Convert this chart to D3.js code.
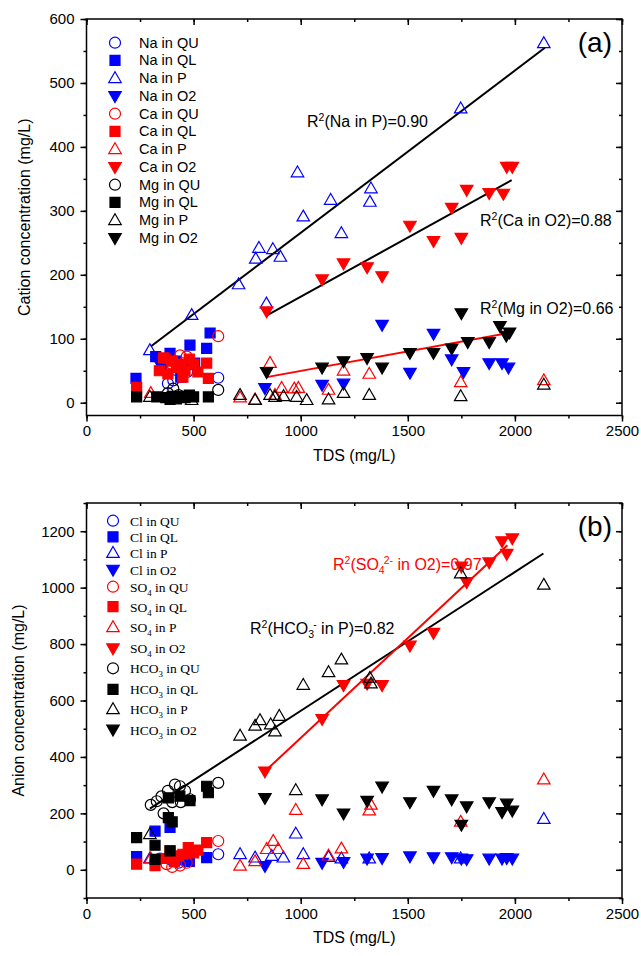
<!DOCTYPE html>
<html><head><meta charset="utf-8">
<script src="https://cdn.jsdelivr.net/npm/d3@7"></script>
<style>body{margin:0;background:#fff}svg{display:block}</style>
</head><body>
<script>
// ---------------- DATA ----------------
const xTicks = [0, 500, 1000, 1500, 2000, 2500];
const yTicksA = [0, 100, 200, 300, 400, 500, 600];
const yTicksB = [0, 200, 400, 600, 800, 1000, 1200];

// Panel (a) cations: [TDS, concentration]
const naQU = [[343,67],[405,35],[430,55],[470,48],[615,39],[380,30]];
const naQL = [[231,38],[323,72],[390,77],[483,90],[561,85],[577,109],[420,65],[455,58],[350,58],[505,62],[440,40]];
const naP  = [[296,82],[491,137],[710,185],[790,225],[805,242],[840,155],[870,240],[905,228],[985,360],[1012,291],[1140,317],[1190,265],[1323,314],[1328,335],[1747,460],[2135,562]];
const naO2 = [[833,23],[1100,28],[1200,30],[1380,122],[1510,47],[1620,108],[1705,68],[1760,48],[1880,62],[1940,62],[1970,55]];
const caQU = [[374,69],[437,74],[468,72],[615,104],[400,60],[455,62]];
const caQL = [[234,24],[340,50],[380,45],[400,65],[420,55],[440,60],[460,50],[480,68],[500,60],[520,48],[561,62],[569,38],[360,70],[450,40]];
const caP  = [[300,15],[717,8],[787,5],[857,62],[880,12],[911,23],[970,22],[989,23],[1130,20],[1200,50],[1320,45],[1747,32],[2135,35]];
const caO2 = [[841,143],[1100,193],[1200,218],[1310,212],[1380,198],[1510,277],[1620,253],[1705,305],[1750,258],[1775,333],[1880,328],[1946,327],[1962,369],[1988,369]];
const mgQU = [[405,22],[615,20],[430,12],[380,15]];
const mgQL = [[234,9],[328,9],[370,8],[400,10],[420,6],[440,10],[460,8],[480,12],[500,9],[569,9],[390,5]];
const mgP  = [[296,9],[491,4],[717,12],[787,4],[857,12],[880,9],[920,10],[981,9],[1028,4],[1130,5],[1200,15],[1320,12],[1747,10],[2135,28]];
const mgO2 = [[841,48],[1100,55],[1200,65],[1310,70],[1380,55],[1510,78],[1620,78],[1705,85],[1750,140],[1780,95],[1880,95],[1930,120],[1960,105],[1975,110]];

// Panel (b) anions
const clQU = [[343,40],[405,30],[430,25],[615,55],[470,35]];
const clQL = [[234,47],[320,137],[390,150],[430,35],[561,43],[480,30]];
const clP  = [[296,40],[717,55],[787,43],[865,49],[919,43],[977,128],[1012,55],[1130,45],[1190,40],[1320,40],[1747,40],[2135,180]];
const clO2 = [[833,14],[1100,25],[1200,28],[1310,40],[1380,42],[1510,48],[1620,45],[1705,45],[1750,40],[1775,38],[1880,40],[1940,40],[1962,42],[1988,40]];
const so4QU = [[374,20],[437,15],[468,25],[615,102],[400,10]];
const so4QL = [[234,20],[320,15],[390,67],[429,49],[475,79],[561,96],[360,40],[410,30],[450,55],[500,60],[520,70]];
const so4P  = [[300,40],[717,14],[787,30],[841,73],[872,102],[895,73],[977,212],[1012,20],[1130,50],[1190,75],[1320,210],[1328,230],[1747,170],[2135,320]];
const so4O2 = [[833,349],[1100,535],[1200,655],[1310,660],[1380,655],[1510,795],[1620,840],[1750,1075],[1775,1020],[1880,1090],[1940,1165],[1962,1120],[1988,1175]];
const hco3QU = [[328,243],[413,302],[436,296],[483,250],[615,308],[300,230],[350,260],[380,280],[400,240],[460,280],[440,240],[360,200]];
const hco3QL = [[234,114],[320,87],[390,67],[320,37],[382,185],[382,255],[436,261],[483,245],[561,296],[569,273],[400,170]];
const hco3P  = [[296,126],[717,475],[787,510],[810,530],[860,515],[880,490],[900,545],[977,282],[1012,655],[1130,700],[1190,745],[1323,680],[1328,660],[1747,1050],[2135,1010]];
const hco3O2 = [[833,255],[1100,250],[1200,200],[1310,245],[1380,295],[1510,240],[1620,280],[1705,250],[1750,160],[1775,225],[1880,240],[1940,205],[1962,235],[1988,210]];

// Regression lines (endpoints)
const naLine = [[300,88],[2140,555]];
const caLine = [[840,136],[1985,348]];
const mgLine = [[841,40],[1985,110]];
const hco3Line = [[296,217],[2133,1121]];
const so4Line  = [[833,349],[1965,1150]];

// ---------------- DRAW ----------------
const W = 641, H = 956;
const svg = d3.select("body").append("svg").attr("width", W).attr("height", H);
const SANS = "Arial, 'Liberation Sans', Helvetica, sans-serif";
const SERIF = "'Times New Roman', 'Liberation Serif', serif";

const BLUE = "#0000ff", RED = "#ff0000", BLACK = "#000000";

function markerPath(type) {
  if (type === "circle") return d3.symbol(d3.symbolCircle, 95)();
  if (type === "square") return d3.symbol(d3.symbolSquare, 100)();
  const s = 12.5, h = s * Math.sqrt(3) / 2;
  if (type === "up") return `M0,${-h*0.6}L${s/2},${h*0.4}L${-s/2},${h*0.4}Z`;
  return `M0,${h*0.6}L${s/2},${-h*0.4}L${-s/2},${-h*0.4}Z`;
}
const FILLED = {circle:false, square:true, up:false, down:true};

function drawPanel(cfg) {
  const x = d3.scaleLinear().domain([0, 2500]).range([86.5, 622]);
  const y = d3.scaleLinear().domain(cfg.yDomain).range(cfg.yRange);
  const g = svg.append("g");
  const x0 = x.range()[0], x1 = x.range()[1], yb = y.range()[0], yt = y.range()[1];

  // lines
  cfg.lines.forEach(l => {
    g.append("path").attr("d", d3.line().x(d => x(d[0])).y(d => y(d[1]))(l.data))
      .attr("stroke", l.color).attr("stroke-width", 2).attr("fill", "none");
  });

  // series
  cfg.series.forEach(s => {
    g.append("g").selectAll("path").data(s.data).join("path")
      .attr("d", markerPath(s.type))
      .attr("transform", d => `translate(${x(d[0])},${y(d[1])})`)
      .attr("fill", FILLED[s.type] ? s.color : "none")
      .attr("stroke", s.color).attr("stroke-width", 1.2);
  });

  // axes
  const minorX = d3.range(0, 2501, 250);
  const minorY = d3.range(cfg.minorStart, cfg.yDomain[1] + 1, cfg.minorStep);
  const bottom = g.append("g").attr("transform", `translate(0,${yb})`)
    .call(d3.axisBottom(x).tickValues(minorX).tickSize(3).tickFormat(""));
  const bottomMaj = g.append("g").attr("transform", `translate(0,${yb})`)
    .call(d3.axisBottom(x).tickValues(xTicks).tickSize(6).tickPadding(4).tickFormat(d3.format("d")));
  const top = g.append("g").attr("transform", `translate(0,${yt})`)
    .call(d3.axisBottom(x).tickValues(minorX).tickSize(3).tickFormat(""));
  const topMaj = g.append("g").attr("transform", `translate(0,${yt})`)
    .call(d3.axisBottom(x).tickValues(xTicks).tickSize(6).tickFormat(""));
  const left = g.append("g").attr("transform", `translate(${x0},0)`)
    .call(d3.axisLeft(y).tickValues(minorY).tickSize(3).tickFormat(""));
  const leftMaj = g.append("g").attr("transform", `translate(${x0},0)`)
    .call(d3.axisLeft(y).tickValues(cfg.yTicks).tickSize(6).tickPadding(6).tickFormat(d3.format("d")));
  const right = g.append("g").attr("transform", `translate(${x1},0)`)
    .call(d3.axisLeft(y).tickValues(minorY).tickSize(3).tickFormat(""));
  const rightMaj = g.append("g").attr("transform", `translate(${x1},0)`)
    .call(d3.axisLeft(y).tickValues(cfg.yTicks).tickSize(6).tickFormat(""));
  [bottom,bottomMaj,top,topMaj,left,leftMaj,right,rightMaj].forEach(a => {
    a.select(".domain").remove();
    a.selectAll("line").attr("stroke", "#000").attr("stroke-width", 1.5);
    a.selectAll("text").attr("font-family", SANS).attr("font-size", 15).attr("fill", "#000");
  });
  g.append("rect").attr("x", x0).attr("y", yt).attr("width", x1 - x0).attr("height", yb - yt)
    .attr("fill", "none").attr("stroke", "#000").attr("stroke-width", 1.5);

  // titles
  g.append("text").attr("x", (x0 + x1) / 2).attr("y", yb + 45).attr("text-anchor", "middle")
    .attr("font-family", SANS).attr("font-size", 16).text("TDS (mg/L)");
  g.append("text").attr("transform", `translate(${cfg.yTitleX},${(yb + yt) / 2}) rotate(-90)`)
    .attr("text-anchor", "middle").attr("font-family", SANS).attr("font-size", 16).text(cfg.yTitle);
  g.append("text").attr("x", 612).attr("y", yt + 33).attr("text-anchor", "end")
    .attr("font-family", SANS).attr("font-size", 28).text(cfg.tag);

  // legend
  const lg = g.append("g");
  cfg.series.forEach((s, i) => {
    const ly = cfg.legendY[i];
    lg.append("path").attr("d", markerPath(s.type)).attr("transform", `translate(${cfg.legendX},${ly})`)
      .attr("fill", FILLED[s.type] ? s.color : "none").attr("stroke", s.color).attr("stroke-width", 1.2);
    const t = lg.append("text").attr("x", cfg.legendX + cfg.legendGap).attr("y", ly + 5)
      .attr("font-family", cfg.legendFont).attr("font-size", cfg.legendSize);
    s.label.forEach(part => {
      const ts = t.append("tspan").text(part.t);
      if (part.sub) ts.attr("font-size", cfg.legendSize * 0.65).attr("dy", 4);
      if (part.after) ts.attr("dy", -4);
    });
  });

  // annotations
  cfg.notes.forEach(n => {
    const t = g.append("text").attr("x", n.x).attr("y", n.y).attr("font-family", SANS)
      .attr("font-size", 16).attr("fill", n.color);
    n.parts.forEach(p => {
      const ts = t.append("tspan").text(p.t);
      if (p.sup) ts.attr("font-size", 10.5).attr("dy", p.dy !== undefined ? p.dy : -6);
      if (p.sub) ts.attr("font-size", 10.5).attr("dy", 4);
      if (p.dx) ts.attr("dx", p.dx);
      if (p.back !== undefined) ts.attr("dy", p.back);
    });
  });
}

const lab = (a, b) => [{t: a + " " + b}];
const labSub = (a, n, b) => [{t: a}, {t: n, sub: true}, {t: " " + b, after: true}];

drawPanel({
  yDomain: [-20, 600], yRange: [415.5, 19], yTicks: yTicksA, minorStart: 0, minorStep: 50,
  yTitle: "Cation concentration (mg/L)", yTitleX: 30, tag: "(a)",
  legendX: 115, legendGap: 24, legendFont: SANS, legendSize: 14.5,
  legendY: d3.range(12).map(i => 42.7 + i * 17.75),
  series: [
    {data: naQU, type: "circle", color: BLUE, label: lab("Na", "in QU")},
    {data: naQL, type: "square", color: BLUE, label: lab("Na", "in QL")},
    {data: naP,  type: "up",     color: BLUE, label: lab("Na", "in P")},
    {data: naO2, type: "down",   color: BLUE, label: lab("Na", "in O2")},
    {data: caQU, type: "circle", color: RED, label: lab("Ca", "in QU")},
    {data: caQL, type: "square", color: RED, label: lab("Ca", "in QL")},
    {data: caP,  type: "up",     color: RED, label: lab("Ca", "in P")},
    {data: caO2, type: "down",   color: RED, label: lab("Ca", "in O2")},
    {data: mgQU, type: "circle", color: BLACK, label: lab("Mg", "in QU")},
    {data: mgQL, type: "square", color: BLACK, label: lab("Mg", "in QL")},
    {data: mgP,  type: "up",     color: BLACK, label: lab("Mg", "in P")},
    {data: mgO2, type: "down",   color: BLACK, label: lab("Mg", "in O2")}
  ],
  lines: [{data: naLine, color: BLACK}, {data: caLine, color: BLACK}, {data: mgLine, color: RED}],
  notes: [
    {x: 307, y: 127, color: BLACK, parts: [{t: "R"}, {t: "2", sup: true}, {t: "(Na in P)=0.90", back: 6}]},
    {x: 480, y: 226, color: BLACK, parts: [{t: "R"}, {t: "2", sup: true}, {t: "(Ca in O2)=0.88", back: 6}]},
    {x: 480, y: 314, color: BLACK, parts: [{t: "R"}, {t: "2", sup: true}, {t: "(Mg in O2)=0.66", back: 6}]}
  ]
});

drawPanel({
  yDomain: [-100, 1300], yRange: [898, 503], yTicks: yTicksB, minorStart: -100, minorStep: 100,
  yTitle: "Anion concentration (mg/L)", yTitleX: 24, tag: "(b)",
  legendX: 113, legendGap: 17, legendFont: SERIF, legendSize: 13.5,
  legendY: [520.7, 536.8, 553, 569.6, 586.7, 606.7, 627.3, 648.3, 668.3, 689.3, 709.3, 729.5],
  series: [
    {data: clQU, type: "circle", color: BLUE, label: lab("Cl", "in QU")},
    {data: clQL, type: "square", color: BLUE, label: lab("Cl", "in QL")},
    {data: clP,  type: "up",     color: BLUE, label: lab("Cl", "in P")},
    {data: clO2, type: "down",   color: BLUE, label: lab("Cl", "in O2")},
    {data: so4QU, type: "circle", color: RED, label: labSub("SO", "4", "in QU")},
    {data: so4QL, type: "square", color: RED, label: labSub("SO", "4", "in QL")},
    {data: so4P,  type: "up",     color: RED, label: labSub("SO", "4", "in P")},
    {data: so4O2, type: "down",   color: RED, label: labSub("SO", "4", "in O2")},
    {data: hco3QU, type: "circle", color: BLACK, label: labSub("HCO", "3", "in QU")},
    {data: hco3QL, type: "square", color: BLACK, label: labSub("HCO", "3", "in QL")},
    {data: hco3P,  type: "up",     color: BLACK, label: labSub("HCO", "3", "in P")},
    {data: hco3O2, type: "down",   color: BLACK, label: labSub("HCO", "3", "in O2")}
  ],
  lines: [{data: hco3Line, color: BLACK}, {data: so4Line, color: RED}],
  notes: [
    {x: 333, y: 570, color: RED, parts: [{t: "R"}, {t: "2", sup: true}, {t: "(SO", back: 6}, {t: "4", sub: true},
      {t: "2-", sup: true, dx: -1, dy: -10}, {t: " in O2)=0.97", back: 6}]},
    {x: 250, y: 634, color: BLACK, parts: [{t: "R"}, {t: "2", sup: true}, {t: "(HCO", back: 6}, {t: "3", sub: true},
      {t: "-", sup: true, dx: -1, dy: -10}, {t: " in P)=0.82", back: 6}]}
  ]
});
</script>
</body></html>
